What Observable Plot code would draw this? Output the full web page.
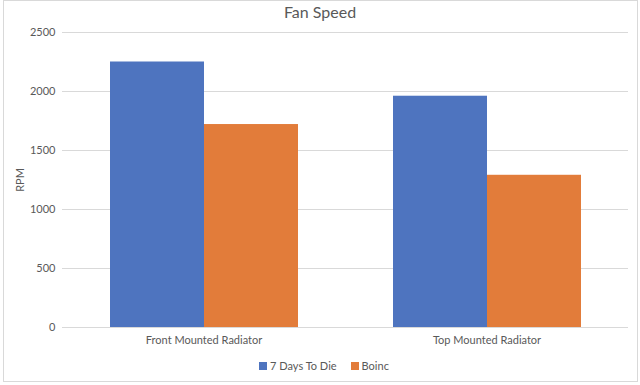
<!DOCTYPE html>
<html>
<head>
<meta charset="utf-8">
<script src="https://cdn.jsdelivr.net/npm/d3@7"></script>
<script src="https://cdn.jsdelivr.net/npm/@observablehq/plot@0.6"></script>
<style>
  html, body { margin: 0; padding: 0; background: #fff; }
  #wrap { position: relative; width: 640px; height: 385px; font-family: Lato, "Open Sans", sans-serif; color: #595959; }
  #frame { position: absolute; left: 3px; top: 0px; width: 635px; height: 382px; border: 1px solid #d9d9d9; box-sizing: border-box; }
  #title { position: absolute; left: 0; width: 640px; top: 2px; text-align: center; font-size: 16px; color: #595959; }
  #legend { position: absolute; top: 359px; left: 0; width: 640px; display: flex; justify-content: center; gap: 14px; font-size: 11px; color: #595959; padding-left: 8px; box-sizing: border-box; }
  .li { display: flex; align-items: center; gap: 3px; }
  .sw { width: 8px; height: 8px; display: inline-block; }
  #chart { position: absolute; left: 0; top: 0; }
</style>
</head>
<body>
<div id="wrap">
  <div id="frame"></div>
  <div id="chart"></div>
  <div id="title"></div>
  <div id="legend"></div>
</div>
<script>
const title = "Fan Speed";
const categories = ["Front Mounted Radiator", "Top Mounted Radiator"];
const seriesNames = ["7 Days To Die", "Boinc"];
const sevenDays = [2250, 1960];
const boinc = [1720, 1290];
const yTicks = [0, 500, 1000, 1500, 2000, 2500];
const yLabel = "RPM";
const colors = ["#4E74BF", "#E27C3A"];

const rows = [];
categories.forEach((c, i) => {
  rows.push({category: c, series: seriesNames[0], value: sevenDays[i]});
  rows.push({category: c, series: seriesNames[1], value: boinc[i]});
});

const chart = Plot.plot({
  width: 640,
  height: 385,
  marginTop: 32,
  marginBottom: 58,
  marginLeft: 62,
  marginRight: 12,
  style: {fontFamily: "Lato, 'Open Sans', sans-serif", fontSize: "11px", color: "#595959", background: "transparent"},
  fx: {domain: categories, padding: 0, label: null, axis: "bottom", tickSize: 0, tickPadding: 9},
  x: {domain: seriesNames, paddingInner: 0, paddingOuter: 0.505, axis: null},
  y: {domain: [0, 2500], ticks: yTicks, label: null, tickSize: 0, tickPadding: 7, tickFormat: "d"},
  color: {domain: seriesNames, range: colors},
  marks: [
    Plot.ruleY(yTicks, {stroke: "#d9d9d9", strokeWidth: 1}),
    Plot.barY(rows, {fx: "category", x: "series", y: "value", fill: "series", inset: 0}),
    Plot.axisY({ticks: yTicks, tickSize: 0, tickPadding: 7, label: null, tickFormat: "d", fontSize: 11})
  ]
});
document.getElementById("chart").appendChild(chart);

// y-axis title
const svg = d3.select(chart);
svg.append("text")
  .attr("transform", "translate(24,180) rotate(-90)")
  .attr("text-anchor", "middle")
  .attr("fill", "#595959")
  .style("font-size", "11px")
  .text(yLabel);

document.getElementById("title").textContent = title;
const legend = document.getElementById("legend");
seriesNames.forEach((s, i) => {
  const d = document.createElement("span");
  d.className = "li";
  d.innerHTML = `<span class="sw" style="background:${colors[i]}"></span><span>${s}</span>`;
  legend.appendChild(d);
});
</script>
</body>
</html>
